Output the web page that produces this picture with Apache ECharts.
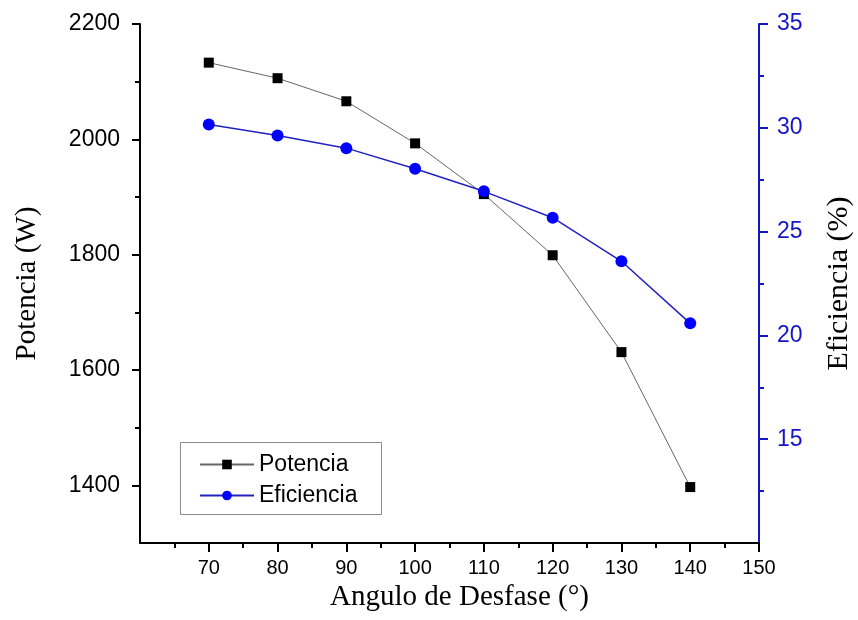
<!DOCTYPE html>
<html>
<head>
<meta charset="utf-8">
<script src="https://cdn.jsdelivr.net/npm/echarts@6/dist/echarts.min.js"></script>
<style>
html,body{margin:0;padding:0;background:#fff;}
#chart{width:858px;height:620px;}
</style>
</head>
<body>
<div id="chart"></div>
<script>
// Data
const angles = [70, 80, 90, 100, 110, 120, 130, 140];
const potencia = [2133, 2106, 2066, 1993, 1905, 1799, 1631, 1397];
const eficiencia = [30.16, 29.63, 29.02, 28.03, 26.94, 25.67, 23.57, 20.58];

// Tick labels
const xTickLabels = [70, 80, 90, 100, 110, 120, 130, 140, 150];
const xMinorTicks = [65, 75, 85, 95, 105, 115, 125, 135, 145];
const leftTickLabels = [1400, 1600, 1800, 2000, 2200];
const leftMinorTicks = [1500, 1700, 1900, 2100];
const rightTickLabels = [15, 20, 25, 30, 35];
const rightMinorTicks = [12.5, 17.5, 22.5, 27.5, 32.5];

const BLUE_AX = '#1414c8';
const sans = 'Liberation Sans';
const serif = 'Liberation Serif';
const plain = v => String(v);

const chart = echarts.init(document.getElementById('chart'), null, {renderer: 'canvas'});

const option = {
  backgroundColor: '#fff',
  animation: false,
  grid: {left: 140, right: 99, top: 24, bottom: 77, containLabel: false, outerBoundsMode: 'none'},
  legend: {
    left: 199, top: 453, orient: 'vertical',
    itemWidth: 54, itemHeight: 12, itemGap: 8, padding: 0,
    textStyle: {fontSize: 23, fontFamily: sans, color: '#000'},
    data: ['Potencia', 'Eficiencia'],
    z: 10
  },
  graphic: [{
    type: 'rect', z: 5,
    shape: {x: 180.5, y: 442.5, width: 201, height: 72},
    style: {fill: '#fff', stroke: '#8a8a8a', lineWidth: 1}
  }],
  xAxis: [{
    type: 'value', min: 60, max: 150, interval: 10, position: 'bottom',
    name: 'Angulo de Desfase (°)', nameLocation: 'middle', nameGap: 40,
    nameTextStyle: {fontFamily: serif, fontSize: 29, color: '#000', padding: [0, 0, 0, 20]},
    axisLine: {show: true, lineStyle: {color: '#000', width: 2}},
    axisTick: {show: true, length: 9, customValues: xTickLabels, lineStyle: {color: '#000', width: 2}},
    axisLabel: {customValues: xTickLabels, formatter: plain, margin: 15, fontSize: 20, fontFamily: sans, color: '#000'},
    splitLine: {show: false}
  }, {
    type: 'value', min: 60, max: 150, position: 'bottom',
    axisLine: {show: false},
    axisTick: {show: true, length: 5, customValues: xMinorTicks, lineStyle: {color: '#000', width: 2}},
    axisLabel: {show: false},
    splitLine: {show: false}
  }],
  yAxis: [{
    type: 'value', min: 1300, max: 2200, position: 'left',
    name: 'Potencia (W)', nameLocation: 'middle', nameGap: 98,
    nameTextStyle: {fontFamily: serif, fontSize: 29, color: '#000'},
    axisLine: {show: true, lineStyle: {color: '#000', width: 2}},
    axisTick: {show: true, length: 8, customValues: leftTickLabels, lineStyle: {color: '#000', width: 2}},
    axisLabel: {customValues: leftTickLabels, formatter: plain, margin: 20, fontSize: 23, fontFamily: sans, color: '#000'},
    splitLine: {show: false}
  }, {
    type: 'value', min: 10, max: 35, position: 'right',
    name: 'Eficiencia (%)', nameLocation: 'middle', nameGap: 65,
    nameTextStyle: {fontFamily: serif, fontSize: 30, color: '#000'},
    axisLine: {show: true, lineStyle: {color: BLUE_AX, width: 2}},
    axisTick: {show: true, length: 9, customValues: rightTickLabels, lineStyle: {color: BLUE_AX, width: 2}},
    axisLabel: {customValues: rightTickLabels, formatter: plain, margin: 18, fontSize: 23, fontFamily: sans, color: BLUE_AX},
    splitLine: {show: false}
  }, {
    type: 'value', min: 1300, max: 2200, position: 'left',
    axisLine: {show: false},
    axisTick: {show: true, length: 5, customValues: leftMinorTicks, lineStyle: {color: '#000', width: 2}},
    axisLabel: {show: false},
    splitLine: {show: false}
  }, {
    type: 'value', min: 10, max: 35, position: 'right',
    axisLine: {show: false},
    axisTick: {show: true, length: 5, customValues: rightMinorTicks, lineStyle: {color: BLUE_AX, width: 2}},
    axisLabel: {show: false},
    splitLine: {show: false}
  }],
  series: [{
    name: 'Potencia', type: 'line', xAxisIndex: 0, yAxisIndex: 0,
    data: angles.map((a, i) => [a, potencia[i]]),
    symbol: 'rect', symbolSize: 10,
    itemStyle: {color: '#000'},
    lineStyle: {color: '#666', width: 1},
    z: 2
  }, {
    name: 'Eficiencia', type: 'line', xAxisIndex: 0, yAxisIndex: 1,
    data: angles.map((a, i) => [a, eficiencia[i]]),
    symbol: 'circle', symbolSize: 12,
    itemStyle: {color: '#0000ff'},
    lineStyle: {color: '#2222c0', width: 1.5},
    z: 3
  }]
};
chart.setOption(option);
</script>
</body>
</html>
